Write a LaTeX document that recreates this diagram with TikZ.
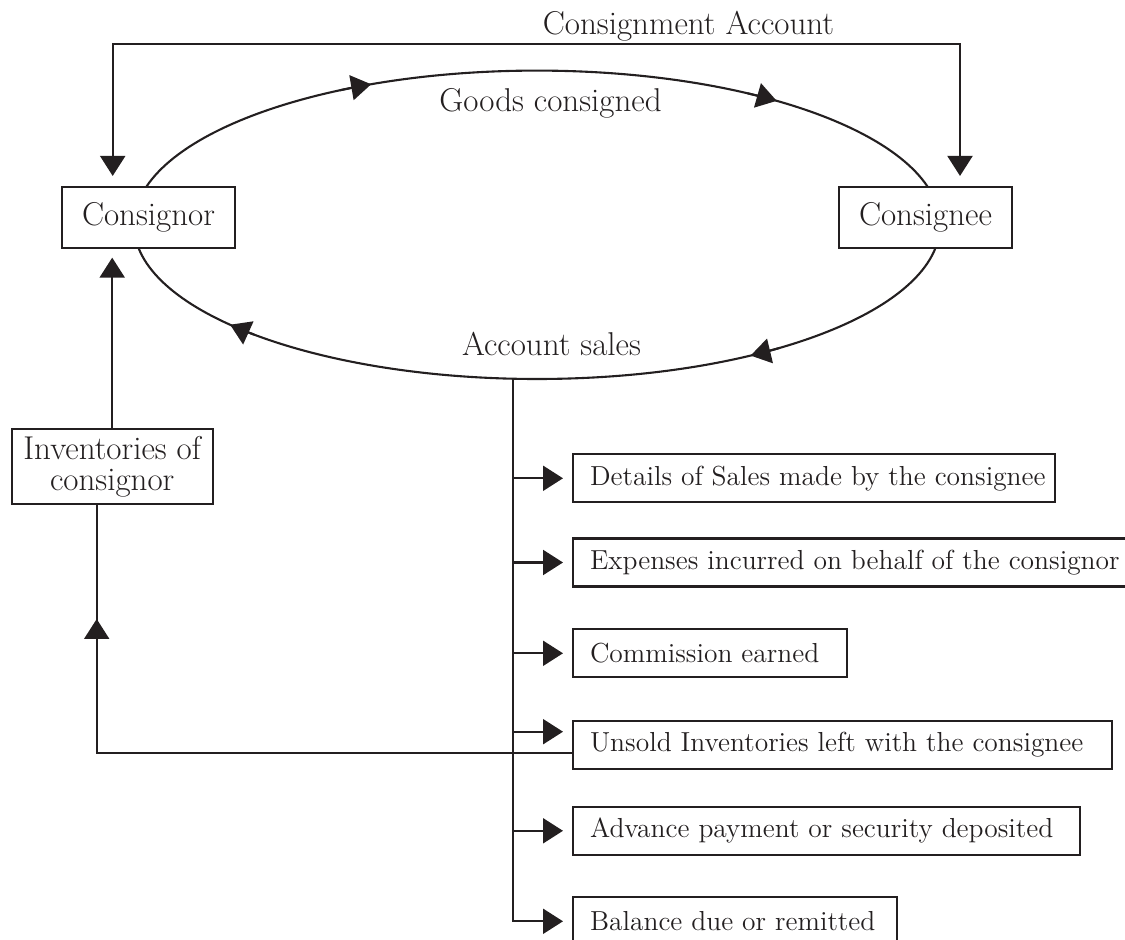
\documentclass[tikz,border=0pt]{standalone}
\usetikzlibrary{arrows.meta}
\definecolor{ink}{RGB}{35,31,32}
\begin{document}
\begin{tikzpicture}[x=0.5pt,y=-0.5pt, line width=1.05pt, color=ink,
  arr/.style={-{Triangle[length=10pt,width=12.5pt]}},
  arrboth/.style={{Triangle[length=10pt,width=12.5pt]}-{Triangle[length=10pt,width=12.5pt]}},
  lbl/.style={font=\fontsize{16.5}{19}\selectfont, inner sep=0pt},
  mainbox/.style={draw, fill=white, font=\fontsize{16.5}{19}\selectfont, minimum width=86.5pt, minimum height=30.5pt, inner sep=0pt},
  itembox/.style={draw, fill=white, anchor=west, font=\fontsize{13.75}{16}\selectfont, inner xsep=8.5pt, inner ysep=0pt, minimum height=24pt}]
\useasboundingbox (0,0) rectangle (1125,940);

% the cycle (ellipse)
\coordinate (E) at (537,224.8);
\draw (E) ellipse [x radius=201.5pt, y radius=77.1pt];
\draw[arr] ([shift={(119.3:201.5pt and 77.1pt)}]E) arc[start angle=119.3, end angle=114.3, x radius=201.5pt, y radius=77.1pt];
\draw[arr] ([shift={(58.5:201.5pt and 77.1pt)}]E) arc[start angle=58.5, end angle=53.5, x radius=201.5pt, y radius=77.1pt];
\draw[arr] ([shift={(-53:201.5pt and 77.1pt)}]E) arc[start angle=-53, end angle=-58, x radius=201.5pt, y radius=77.1pt];
\draw[arr] ([shift={(-134.6:201.5pt and 77.1pt)}]E) arc[start angle=-134.6, end angle=-139.6, x radius=201.5pt, y radius=77.1pt];

% main boxes
\node[mainbox] (cor) at (148.5,217.5) {Consignor};
\node[mainbox] (cne) at (925.5,217.5) {Consignee};
\node[mainbox, align=center, minimum width=100.5pt, minimum height=37.5pt, font=\fontsize{16.5}{15.5}\selectfont] (inv) at (112.2,466.5) {Inventories of\\consignor};

% labels
\node[lbl, anchor=base] (ca) at (688.5,35) {Consignment Account};
\node[lbl, anchor=base] (gc) at (550.5,111.7) {Goods consigned};
\node[lbl, anchor=base] (as) at (551.5,356) {Account sales};

% consignment account connector
\coordinate (tl) at (112.7,44);
\coordinate (tr) at (960,44);
\draw[arrboth, shorten <=5pt, shorten >=5pt] (tl |- cor.north) -- (tl) -- (tr) -- (tr |- cne.north);

% inventories -> consignor
\draw[arr, shorten >=4.3pt] (inv.north) -- (inv.north |- cor.south);

% account sales items
\node[itembox] (d)  at (572,478.3) {\makebox[224pt][l]{Details of Sales made by the consignee}};
\node[itembox] (x)  at (572,562.5) {\makebox[263pt][l]{Expenses incurred on behalf of the consignor}};
\node[itembox] (cm) at (572,653.3) {\makebox[120pt][l]{Commission earned}};
\node[itembox] (u)  at (572,744.7) {\makebox[252.5pt][l]{Unsold Inventories left with the consignee}};
\node[itembox] (ad) at (572,830.8) {\makebox[236.5pt][l]{Advance payment or security deposited}};
\node[itembox] (b)  at (572,921.3) {\makebox[145pt][l]{Balance due or remitted}};

% trunk and branches
\coordinate (tk) at (513.3,378.7);
\draw[arr, shorten >=4.5pt] (tk) -- (tk |- b.west) -- (b.west);
\foreach \n in {d,x,cm,ad} {
  \draw[arr, shorten >=4.5pt] (tk |- \n.west) -- (\n.west);
}
\coordinate (ua) at (513.3,731.7);
\draw[arr, shorten >=4.5pt] (ua) -- (ua -| u.west);

% unsold inventories back to inventories of consignor
\coordinate (c1) at (96.7,753.3);
\coordinate (m1) at (96.7,619);
\draw (u.west |- c1) -- (c1) -- (c1 |- inv.south);
\draw[arr] (c1) -- (m1);
\end{tikzpicture}
\end{document}
